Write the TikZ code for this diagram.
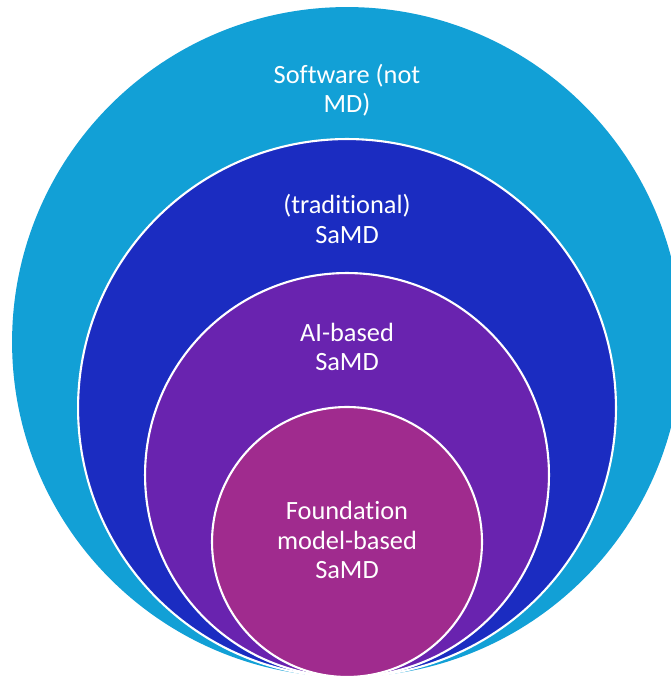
\documentclass[tikz,border=0pt]{standalone}
\usepackage{fontspec}
\setmainfont{Carlito}[Ligatures=NoCommon]
\usetikzlibrary{positioning}
\definecolor{softblue}{RGB}{18,160,214}
\definecolor{samdblue}{RGB}{27,44,193}
\definecolor{aipurple}{RGB}{105,35,175}
\definecolor{fmplum}{RGB}{160,43,142}

\begin{document}
\begin{tikzpicture}[x=0.02cm,y=0.02cm]
                    \tikzset{ring/.style={circle,draw=white,line width=1.2pt,inner sep=0pt}}
                    \tikzset{ringtext/.style={text=white,align=center,font=\fontsize{15}{16.8}\selectfont}}
                    \useasboundingbox (0,0) rectangle (671,678);
                    \clip (0,0) rectangle (671,678);
                    \draw (347,336) node[ring,draw=none,fill=softblue,minimum size=13.4cm,name=software] {};
                    \draw (347,270) node[ring,fill=samdblue,minimum size=10.76cm,name=samd] {};
                    \draw (347,203) node[ring,fill=aipurple,minimum size=8.08cm,name=aisamd] {};
                    \draw (347,136) node[ring,fill=fmplum,minimum size=5.4cm,name=fmsamd] {};
                    \draw (347,588) node[ringtext,name=softwarelabel] {Software (not\\MD)};
                    \draw (347,459) node[ringtext,name=samdlabel] {(traditional)\\SaMD};
                    \draw (347,331) node[ringtext,name=ailabel] {AI-based\\SaMD};
                    \draw (347,138) node[ringtext,name=fmlabel] {Foundation\\model-based\\SaMD};
                \end{tikzpicture}
\end{document}
